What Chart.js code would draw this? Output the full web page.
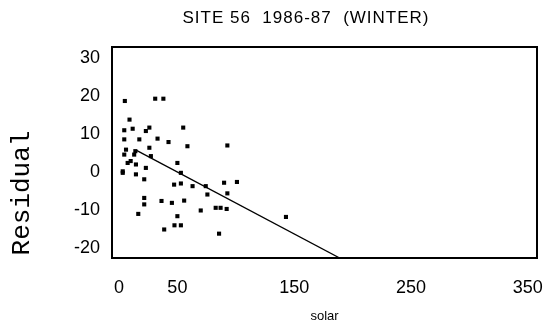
<!DOCTYPE html>
<html>
<head>
<meta charset="utf-8">
<script src="https://cdn.jsdelivr.net/npm/chart.js@4"></script>
<style>
  html, body { margin: 0; padding: 0; background: #fff; }
  #wrap { width: 549px; height: 326px; }
</style>
</head>
<body>
<div id="wrap"><canvas id="c"></canvas></div>
<script>
// residuals vs solar
const solarX = [5, 31, 38, 9, 4.5, 11.7, 26, 23, 55, 4.5, 17.4, 33, 42.4, 58.6, 92.8, 6, 13, 26, 27.3, 4.5,
  7.4, 14.5, 23, 3.2, 14.5, 50, 53, 21.6, 47.2, 53, 63, 74.3, 75.7, 90, 101, 92.8, 21.6, 21.6, 36.4, 45.3,
  55.8, 70, 82.8, 87, 92.2, 16.5, 50, 47.5, 53, 38.7, 85.7, 143, 10, 14, 3.2];
const residY = [18.8, 19.4, 19.4, 13.9, 11.1, 11.5, 11.8, 10.9, 11.8, 8.7, 8.7, 8.9, 8.0, 6.9, 7.1, 6, 4.7, 6.5, 4.3, 4.7,
  2.5, 2.1, 1.2, -0.1, -0.5, 2.5, -0.1, -1.8, -3.2, -2.9, -3.6, -3.6, -5.8, -2.7, -2.5, -5.5, -6.7, -8.4, -7.5, -8.0,
  -7.4, -10, -9.3, -9.3, -9.6, -10.9, -11.5, -13.9, -13.9, -15, -16.1, -11.7, 3, 5.6, 0.3];

// fitted line end points
const fitX = [15, 189];
const fitY = [5.8, -22.5];

const xTicks = [0, 50, 150, 250, 350];
const yTicks = [-20, -10, 0, 10, 20, 30];

const titleText = 'SITE 56  1986-87  (WINTER)';
const yTitle = 'Residual';
const xTitle = 'solar';

const pts = solarX.map((x, i) => ({ x, y: residY[i] }));
const fit = fitX.map((x, i) => ({ x, y: fitY[i] }));

const frame = {
  id: 'frame',
  afterDraw(chart) {
    const { ctx, chartArea: a } = chart;
    ctx.save();
    ctx.strokeStyle = '#000';
    ctx.lineWidth = 2;
    ctx.strokeRect(a.left, a.top, a.right - a.left, a.bottom - a.top);
    ctx.fillStyle = '#000';
    ctx.font = '17px "Liberation Sans"';
    ctx.letterSpacing = '1px';
    ctx.textAlign = 'center';
    ctx.textBaseline = 'middle';
    ctx.fillText(titleText, 306, 18);
    ctx.letterSpacing = '0px';
    ctx.translate(22, 193);
    ctx.rotate(-Math.PI / 2);
    ctx.font = '26px "Liberation Mono"';
    ctx.fillText(yTitle, 0, 0);
    ctx.restore();
  }
};

new Chart(document.getElementById('c'), {
  type: 'scatter',
  data: {
    datasets: [
      { data: pts, pointStyle: 'rect', pointRadius: 2.9, backgroundColor: '#000', borderColor: '#000', borderWidth: 0 },
      { data: fit, showLine: true, pointRadius: 0, borderColor: '#000', borderWidth: 1.3 }
    ]
  },
  options: {
    responsive: true, maintainAspectRatio: false, animation: false,
    layout: { padding: { left: 0, right: 12, top: 47, bottom: 0 } },
    plugins: { legend: { display: false }, tooltip: { enabled: false } },
    scales: {
      x: {
        type: 'linear', min: -6, max: 358,
        afterBuildTicks: s => { s.ticks = xTicks.map(v => ({ value: v })); },
        afterFit: s => { s.height = 68; s.paddingLeft = 0; s.paddingRight = 0; },
        grid: { display: false, drawTicks: false },
        border: { display: false },
        ticks: { color: '#000', padding: 19, maxRotation: 0, font: { family: 'Liberation Sans', size: 18 } },
        title: { display: true, text: xTitle, color: '#000', padding: { top: 0, bottom: 2 }, font: { family: 'Liberation Sans', size: 13 } }
      },
      y: {
        min: -22.5, max: 33,
        afterBuildTicks: s => { s.ticks = yTicks.map(v => ({ value: v })); },
        afterFit: s => { s.width = 112; s.paddingTop = 0; s.paddingBottom = 0; },
        grid: { display: false, drawTicks: false },
        border: { display: false },
        ticks: { color: '#000', padding: 12, font: { family: 'Liberation Sans', size: 18 } }
      }
    }
  },
  plugins: [frame]
});
</script>
</body>
</html>
